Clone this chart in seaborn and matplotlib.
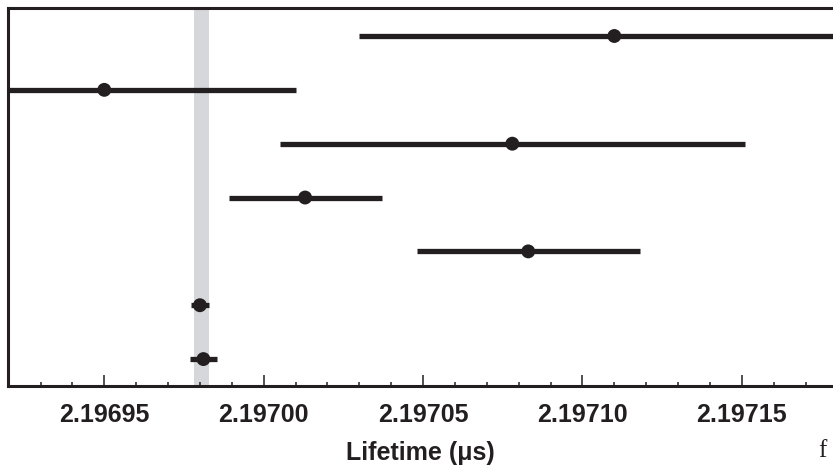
import matplotlib
matplotlib.use("Agg")
import matplotlib.pyplot as plt
from matplotlib.ticker import MultipleLocator, FixedLocator
import seaborn as sns
import pandas as pd

# muon lifetime measurements, top row first (values in microseconds)
rows = [0, 1, 2, 3, 4, 5, 6]
lifetime = [2.197110, 2.196950, 2.197078, 2.197013, 2.197083, 2.1969800, 2.1969811]
lifetime_err = [0.000080, 0.000060, 0.000073, 0.000024, 0.000035, 0.0000029, 0.0000042]

# world average band
band_lo = 2.1969782
band_hi = 2.1969828

major_ticks = [2.19695, 2.19700, 2.19705, 2.19710, 2.19715]
tick_labels = ["2.19695", "2.19700", "2.19705", "2.19710", "2.19715"]

ink = "#231f20"

sns.set_theme(style="white")
plt.rcParams["font.family"] = ["Liberation Sans", "DejaVu Sans"]

df = pd.DataFrame({"row": rows, "lifetime": lifetime, "err": lifetime_err})

fig = plt.figure(figsize=(8.33, 4.65), dpi=100)
ax = fig.add_axes([8 / 833, 79 / 465, 1 - 8 / 833, 378 / 465])

ax.axvspan(band_lo, band_hi, color="#d6d7db", lw=0, zorder=0)
ax.errorbar(df["lifetime"], df["row"], xerr=df["err"], fmt="none",
            ecolor=ink, elinewidth=3.8, capsize=0, zorder=2)
sns.scatterplot(data=df, x="lifetime", y="row", ax=ax, color=ink,
                s=100, edgecolor="none", zorder=3, legend=False)

ax.set_xlim(2.1969198, 2.1971786)
ax.set_ylim(6.5, -0.52)

ax.xaxis.set_major_locator(FixedLocator(major_ticks))
ax.set_xticklabels(tick_labels, fontsize=18, fontweight="bold", color=ink)
ax.xaxis.set_minor_locator(MultipleLocator(0.00001))
ax.tick_params(axis="x", which="major", direction="in", length=8, width=1.1,
               color=ink, bottom=True, pad=12)
ax.tick_params(axis="x", which="minor", direction="in", length=3, width=1.1,
               color=ink, bottom=True)
ax.set_yticks([])

ax.set_xlabel("Lifetime (μs)", fontsize=18, fontweight="bold", color=ink, labelpad=10)
ax.set_ylabel("")

for side in ["left", "top", "bottom"]:
    ax.spines[side].set_color(ink)
    ax.spines[side].set_linewidth(2.2)
ax.spines["right"].set_visible(False)

fig.text(818 / 833, 1 - 457 / 465, "f", fontsize=18, family="Liberation Serif",
         color=ink, va="baseline", ha="left")

fig.savefig("out.png", dpi=100)
